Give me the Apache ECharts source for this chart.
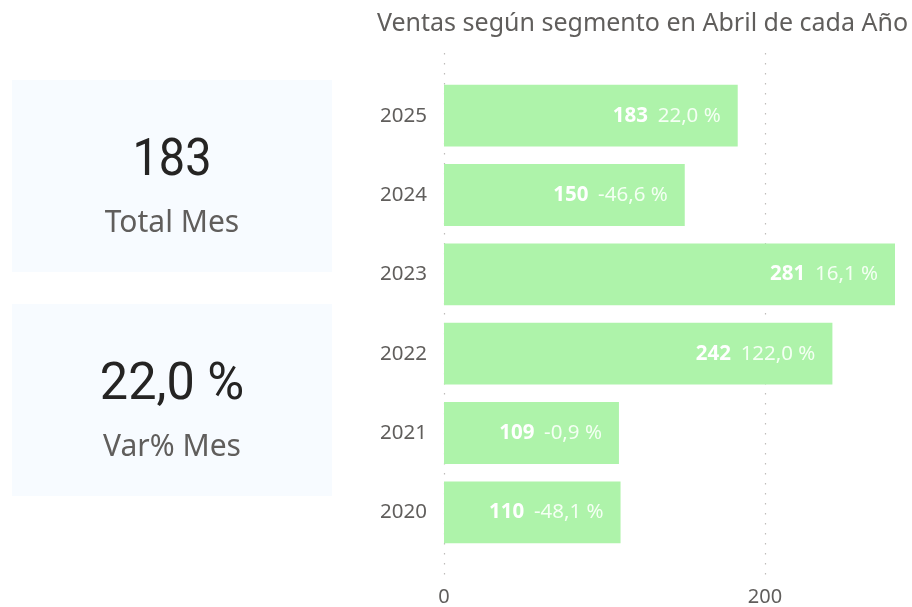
<!DOCTYPE html>
<html>
<head>
<meta charset="utf-8">
<script src="https://cdn.jsdelivr.net/npm/echarts@6/dist/echarts.min.js"></script>
<style>
html,body{margin:0;padding:0;background:#fff;}
#c{width:912px;height:607px;}
</style>
</head>
<body>
<div id="c"></div>
<script>
var titleText = 'Ventas según segmento en Abril de cada Año';
var years = ['2025', '2024', '2023', '2022', '2021', '2020'];
var sales = [183, 150, 281, 242, 109, 110];
var varPct = [22.0, -46.6, 16.1, 122.0, -0.9, -48.1];
var xTicks = [0, 200];
var kpiLabels = ['Total Mes', 'Var% Mes'];

function fmtPct(v) { return v.toFixed(1).replace('.', ',') + ' %'; }

var FONT = '"Noto Sans", "Open Sans", sans-serif';
var KPI_FONT = 'Roboto, "DejaVu Sans", sans-serif';

var chart = echarts.init(document.getElementById('c'), null, {renderer: 'canvas'});

var option = {
  animation: false,
  backgroundColor: '#ffffff',
  title: {
    text: titleText,
    left: 372, top: 6,
    textStyle: {fontFamily: FONT, fontSize: 25, fontWeight: 'normal', color: '#605e5c'}
  },
  grid: [
    {left: 444, right: 17, top: 76, bottom: 55},
    {left: 444, right: 17, top: 53, bottom: 30}
  ],
  xAxis: [
    {gridIndex: 0, type: 'value', min: 0, max: 281, show: false, splitLine: {show: false}},
    {gridIndex: 1, type: 'value', min: xTicks[0], max: 281, interval: xTicks[1] - xTicks[0],
     axisLine: {show: false}, axisTick: {show: false},
     axisLabel: {showMaxLabel: false, margin: 10, fontFamily: FONT, fontSize: 20, color: '#605e5c'},
     splitLine: {show: true, showMaxLine: false, lineStyle: {color: '#bebcba', type: [1.5, 8.5], width: 1.2}}}
  ],
  yAxis: [
    {gridIndex: 0, type: 'category', data: years, inverse: true,
     axisLine: {show: false}, axisTick: {show: false},
     axisLabel: {margin: 17, fontFamily: FONT, fontSize: 20.5, color: '#605e5c'}},
    {gridIndex: 1, type: 'value', show: false}
  ],
  series: [{
    type: 'bar',
    xAxisIndex: 0, yAxisIndex: 0,
    data: sales,
    barCategoryGap: '22%',
    itemStyle: {color: '#aef3aa'},
    label: {
      show: true,
      position: 'insideRight',
      distance: 17,
      formatter: function (p) { return '{b|' + p.value + '}  {n|' + fmtPct(varPct[p.dataIndex]) + '}'; },
      rich: {
        b: {fontFamily: FONT, fontSize: 20.5, fontWeight: 'bold', color: '#ffffff'},
        n: {fontFamily: FONT, fontSize: 20.5, fontWeight: 'normal', color: '#f4fff3', padding: [0, 0, 0, 3]}
      }
    }
  }],
  graphic: [
    {type: 'rect', shape: {x: 12, y: 80, width: 320, height: 192}, style: {fill: '#f7fbff'}, z: -1},
    {type: 'rect', shape: {x: 12, y: 304, width: 320, height: 192}, style: {fill: '#f7fbff'}, z: -1},
    {type: 'text', x: 172, y: 161.5, scaleX: 0.9, style: {text: String(sales[0]), fontFamily: KPI_FONT, fontSize: 52, fill: '#252423', align: 'center', verticalAlign: 'middle'}},
    {type: 'text', x: 172, y: 223.5, style: {text: kpiLabels[0], fontFamily: FONT, fontSize: 30, fill: '#605e5c', align: 'center', verticalAlign: 'middle'}},
    {type: 'text', x: 172, y: 385.5, scaleX: 0.97, style: {text: fmtPct(varPct[0]), fontFamily: KPI_FONT, fontSize: 52, fill: '#252423', align: 'center', verticalAlign: 'middle'}},
    {type: 'text', x: 172, y: 447.5, style: {text: kpiLabels[1], fontFamily: FONT, fontSize: 30, fill: '#605e5c', align: 'center', verticalAlign: 'middle'}}
  ]
};
chart.setOption(option);
</script>
</body>
</html>
